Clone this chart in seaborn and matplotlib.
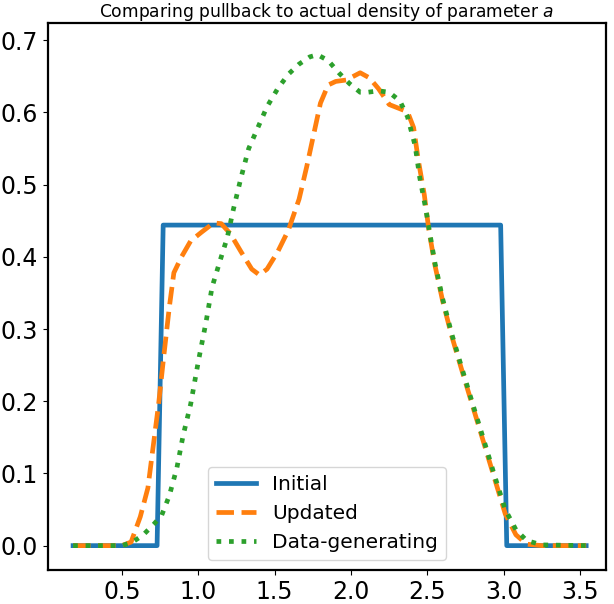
import numpy as np
import pandas as pd
import matplotlib
matplotlib.use("Agg")
import matplotlib.pyplot as plt
import seaborn as sns

# Initial (uniform) density
init_x = [0.18, 0.73, 0.77, 2.98, 3.02, 3.54]
init_y = [0.0, 0.0, 0.444, 0.444, 0.0, 0.0]

# Updated density
upd_x = [0.18, 0.50, 0.56, 0.62, 0.67, 0.70, 0.74, 0.77, 0.81, 0.84, 0.89, 0.95,
         1.02, 1.10, 1.15, 1.21, 1.28, 1.35, 1.40, 1.45, 1.52, 1.59, 1.66, 1.71,
         1.76, 1.80, 1.85, 1.90, 1.97, 2.06, 2.12, 2.18, 2.25, 2.31, 2.37, 2.41,
         2.44, 2.48, 2.51, 2.55, 2.60, 2.66, 2.73, 2.80, 2.87, 2.94, 3.01, 3.08,
         3.15, 3.25, 3.54]
upd_y = [0.0, 0.0, 0.005, 0.04, 0.08, 0.13, 0.196, 0.255, 0.33, 0.378, 0.40, 0.422,
         0.434, 0.447, 0.446, 0.432, 0.407, 0.383, 0.375, 0.383, 0.407, 0.437, 0.48, 0.525,
         0.574, 0.613, 0.638, 0.643, 0.645, 0.655, 0.648, 0.633, 0.611, 0.606, 0.601, 0.579,
         0.535, 0.486, 0.437, 0.388, 0.339, 0.29, 0.24, 0.191, 0.142, 0.093, 0.044, 0.015,
         0.002, 0.0, 0.0]

# Data-generating density
gen_x = [0.18, 0.50, 0.57, 0.64, 0.71, 0.76, 0.81, 0.86, 0.90, 0.95, 1.00, 1.05,
         1.09, 1.14, 1.19, 1.23, 1.28, 1.33, 1.39, 1.45, 1.52, 1.59, 1.66, 1.73,
         1.78, 1.85, 1.92, 1.99, 2.06, 2.11, 2.18, 2.25, 2.32, 2.37, 2.42, 2.45,
         2.49, 2.51, 2.55, 2.60, 2.66, 2.73, 2.80, 2.87, 2.94, 3.01, 3.08, 3.15,
         3.25, 3.54]
gen_y = [0.0, 0.0, 0.005, 0.015, 0.03, 0.042, 0.069, 0.108, 0.152, 0.196, 0.255, 0.309,
         0.358, 0.393, 0.427, 0.466, 0.51, 0.55, 0.579, 0.608, 0.633, 0.653, 0.667, 0.677,
         0.680, 0.672, 0.655, 0.64, 0.628, 0.628, 0.630, 0.628, 0.616, 0.594, 0.554, 0.51,
         0.466, 0.440, 0.391, 0.342, 0.293, 0.243, 0.194, 0.146, 0.097, 0.050, 0.022, 0.007,
         0.001, 0.0]

fig = plt.figure(figsize=(6.14, 6.04), dpi=100)
ax = fig.add_axes([0.078, 0.056, 0.909, 0.906])

sns.lineplot(x=init_x, y=init_y, ax=ax, color="C0", lw=3.4, label="Initial",
             sort=False, estimator=None)
sns.lineplot(x=upd_x, y=upd_y, ax=ax, color="C1", lw=3.4, linestyle="--",
             label="Updated", sort=False, estimator=None)
sns.lineplot(x=gen_x, y=gen_y, ax=ax, color="C2", lw=3.4, linestyle=":",
             label="Data-generating", sort=False, estimator=None)

ax.set_xlim(0.015, 3.67)
ax.set_ylim(-0.034, 0.724)
ax.set_xticks([0.5, 1.0, 1.5, 2.0, 2.5, 3.0, 3.5])
ax.set_yticks([0.0, 0.1, 0.2, 0.3, 0.4, 0.5, 0.6, 0.7])
ax.tick_params(labelsize=17)
for s in ax.spines.values():
    s.set_linewidth(1.6)
ax.set_title("Comparing pullback to actual density of parameter $a$", fontsize=12.3, pad=3)
ax.legend(loc="lower center", fontsize=14.5)

fig.savefig("out.png", dpi=100)
